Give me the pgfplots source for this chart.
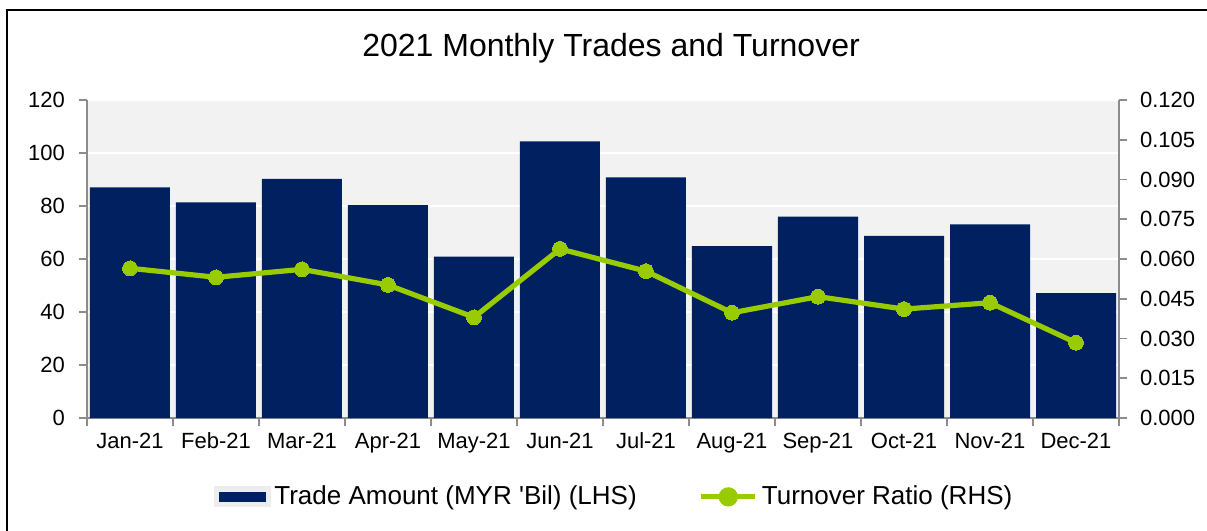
\documentclass[border=0pt]{standalone}
\usepackage{fontspec}
\setmainfont{Liberation Sans}
\newfontfamily\plainfont{Liberation Sans}
\usepackage{pgfplots}
\pgfplotsset{compat=1.18}
\definecolor{navy}{HTML}{002060}
\definecolor{lime}{HTML}{99CC00}
\definecolor{plotbg}{HTML}{F2F2F2}
\definecolor{axgray}{HTML}{8C8C8C}
\begin{document}
\begin{tikzpicture}
\useasboundingbox (-43.5pt,-56.5pt) rectangle (560pt,209pt);
\draw[black, line width=1.1pt] (-39.8pt,-70pt) -- (-39.8pt,204pt) -- (570pt,204pt);
\pgfplotsset{common/.style={width=516pt,height=159pt,scale only axis,
  xmin=-0.5,xmax=11.5,ymin=0,tick align=outside,
  ticklabel style={font=\fontsize{11}{13}\selectfont},
  /pgf/number format/assume math mode=true,
  major tick length=4pt, minor tick length=4pt}}
\begin{axis}[common, ymax=120,
  axis x line*=bottom, axis y line*=left,
  axis line style={axgray, line width=0.8pt},
  ytick={0,20,40,60,80,100,120},
  yticklabel style={xshift=-3.5pt},
  xtick={0,1,2,3,4,5,6,7,8,9,10,11},
  xticklabels={Jan-21,Feb-21,Mar-21,Apr-21,May-21,Jun-21,Jul-21,Aug-21,Sep-21,Oct-21,Nov-21,Dec-21},
  xticklabel style={text height=0.75em, text depth=0.25em},
  major x tick style={draw=none},
  minor xtick={-0.5,0.5,1.5,2.5,3.5,4.5,5.5,6.5,7.5,8.5,9.5,10.5,11.5},
  minor x tick style={axgray, line width=0.8pt},
  ytick style={axgray, line width=0.8pt},
  ymajorgrids, grid style={white, line width=1pt},
  axis background/.style={fill=plotbg}]
\addplot[ybar, bar width=40pt, fill=navy, draw=none] coordinates {
(0,87.0) (1,81.4) (2,90.2) (3,80.3) (4,60.9) (5,104.4) (6,90.8) (7,64.9) (8,76.0) (9,68.7) (10,73.1) (11,47.1)};
\end{axis}
\begin{axis}[common, ymax=0.12,
  axis y line*=right, axis x line=none,
  axis line style={axgray, line width=0.8pt},
  ytick style={axgray, line width=0.8pt},
  ytick={0,0.015,0.03,0.045,0.06,0.075,0.09,0.105,0.12},
  scaled y ticks=false,
  yticklabel style={xshift=3pt, /pgf/number format/.cd, fixed, fixed zerofill, precision=3},
  clip=false,
  legend columns=2,
  legend style={at={(0.5116,-0.248)}, anchor=center, draw=none, fill=none,
    font=\plainfont\fontsize{13}{15}\selectfont,
    /tikz/every even column/.append style={column sep=29pt}},
  legend cell align=left]
\addlegendimage{legend image code/.code={\fill[black!7] (0pt,-5pt) rectangle (28pt,5pt); \fill[navy] (2.5pt,-2.2pt) rectangle (25.5pt,2.2pt);}}
\addlegendentry{Trade Amount (MYR 'Bil) (LHS)}
\addplot[lime, line width=2.6pt, mark=*, mark size=3.7pt, mark options={fill=lime, draw=lime, line width=0pt},
  legend image code/.code={\draw[lime, line width=2.6pt] (0pt,0pt) -- (27pt,0pt); \fill[lime] (13.5pt,0pt) circle (3.5pt);}]
coordinates {
(0,0.0565) (1,0.0531) (2,0.0561) (3,0.0502) (4,0.0380) (5,0.0638) (6,0.0554) (7,0.0397) (8,0.0458) (9,0.0411) (10,0.0435) (11,0.0284)};
\addlegendentry{Turnover Ratio (RHS)}
\node[font=\fontsize{16}{19}\selectfont] at (rel axis cs:0.5078,1.1635) {2021 Monthly Trades and Turnover};
\end{axis}
\end{tikzpicture}
\end{document}
